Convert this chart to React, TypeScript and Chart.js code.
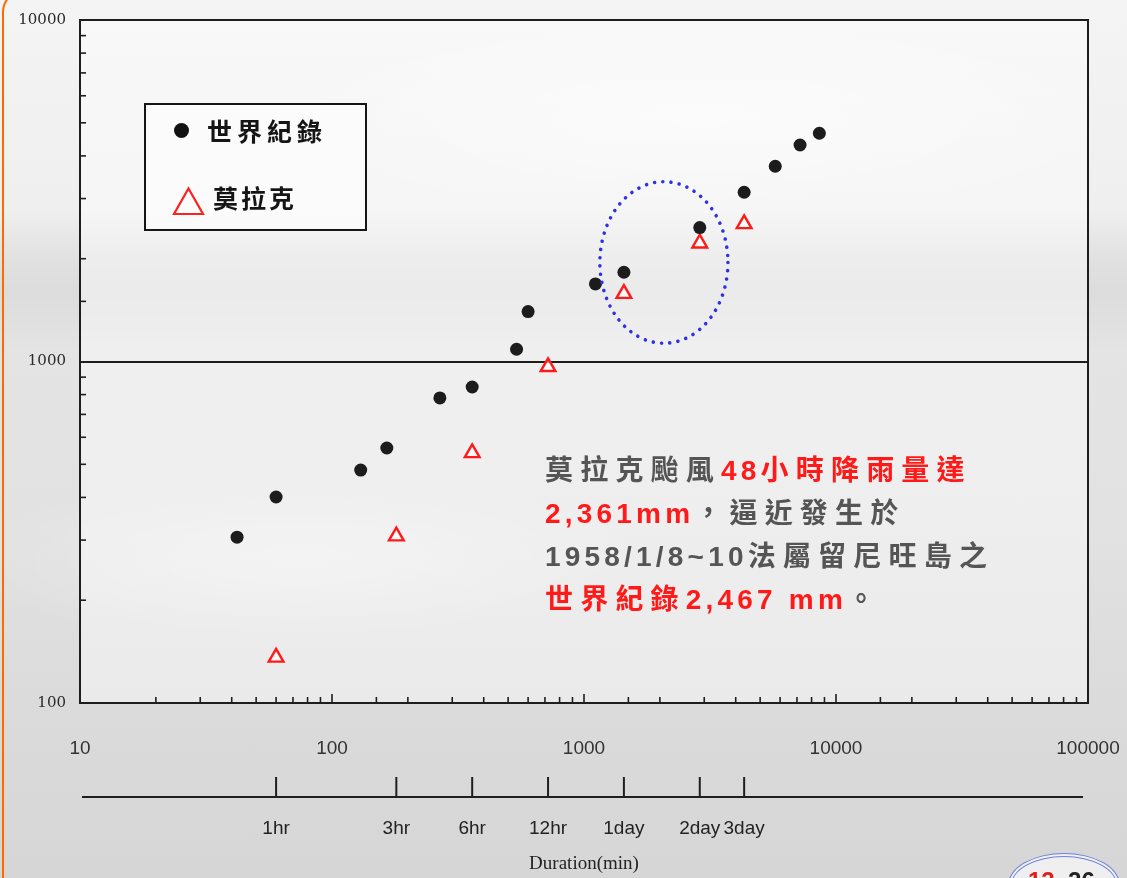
import { useEffect, useRef } from "react";
import { Chart, registerables } from "chart.js";

Chart.register(...registerables);

// ---- data ----
const worldDurations = [42, 60, 130, 165, 268, 360, 540, 600, 1110, 1440, 2880, 4320, 5740, 7200, 8590];
const worldDepths = [306, 401, 481, 558, 782, 842, 1086, 1400, 1687, 1825, 2467, 3130, 3730, 4305, 4660];
const morakotDurations = [60, 180, 360, 720, 1440, 2880, 4320];
const morakotDepths = [136, 308, 540, 965, 1580, 2220, 2530];

const durationTicks = [60, 180, 360, 720, 1440, 2880, 4320];
const durationLabels = ["1hr", "3hr", "6hr", "12hr", "1day", "2day", "3day"];
const xAxisTitle = "Duration(min)";

// highlighted region (data space) for the dotted ellipse
const highlightX = [1156, 3726];
const highlightY = [1131, 3362];

const seriesNames = ["世界紀錄", "莫拉克"];

const isDecade = (v: number) => {
  const l = Math.log10(v);
  return Math.abs(l - Math.round(l)) < 1e-9;
};

const decorPlugin = {
  id: "decor",
  beforeDraw(chart: any) {
    const { ctx, chartArea: a } = chart;
    ctx.save();
    ctx.fillStyle = "rgba(255,255,255,0.42)";
    ctx.fillRect(a.left, a.top, a.right - a.left, a.bottom - a.top);
    ctx.restore();
  },
  afterDraw(chart: any) {
    const { ctx, chartArea: a } = chart;
    const xs = chart.scales.x;
    const ys = chart.scales.y;
    ctx.save();
    // frame top & right
    ctx.strokeStyle = "#1e1e1e";
    ctx.lineWidth = 2;
    ctx.beginPath();
    ctx.moveTo(a.left, a.top);
    ctx.lineTo(a.right, a.top);
    ctx.lineTo(a.right, a.bottom);
    ctx.stroke();

    // inner ticks on x
    ctx.lineWidth = 1.6;
    xs.ticks.forEach((t: any) => {
      const px = xs.getPixelForValue(t.value);
      if (px <= a.left + 1 || px >= a.right - 1) return;
      const len = isDecade(t.value) ? 9 : 6;
      ctx.beginPath();
      ctx.moveTo(px, a.bottom);
      ctx.lineTo(px, a.bottom - len);
      ctx.stroke();
    });
    // inner ticks on y
    ys.ticks.forEach((t: any) => {
      const py = ys.getPixelForValue(t.value);
      if (py <= a.top + 1 || py >= a.bottom - 1) return;
      if (isDecade(t.value)) return;
      ctx.beginPath();
      ctx.moveTo(a.left, py);
      ctx.lineTo(a.left + 6, py);
      ctx.stroke();
    });

    // dotted ellipse
    const ex1 = xs.getPixelForValue(highlightX[0]);
    const ex2 = xs.getPixelForValue(highlightX[1]);
    const ey1 = ys.getPixelForValue(highlightY[1]);
    const ey2 = ys.getPixelForValue(highlightY[0]);
    ctx.setLineDash([0.01, 8.3]);
    ctx.lineCap = "round";
    ctx.lineWidth = 3.6;
    ctx.strokeStyle = "#2f2fe6";
    ctx.beginPath();
    ctx.ellipse((ex1 + ex2) / 2, (ey1 + ey2) / 2, (ex2 - ex1) / 2, (ey2 - ey1) / 2, 0, 0, Math.PI * 2);
    ctx.stroke();
    ctx.setLineDash([]);
    ctx.lineCap = "butt";

    // duration axis
    const lineY = a.bottom + 94;
    ctx.strokeStyle = "#1e1e1e";
    ctx.lineWidth = 2;
    ctx.beginPath();
    ctx.moveTo(a.left + 2, lineY);
    ctx.lineTo(a.right - 5, lineY);
    ctx.stroke();
    ctx.fillStyle = "#222";
    ctx.font = '19px "Liberation Sans"';
    ctx.textAlign = "center";
    ctx.textBaseline = "middle";
    durationTicks.forEach((d, i) => {
      const px = xs.getPixelForValue(d);
      ctx.beginPath();
      ctx.moveTo(px, lineY);
      ctx.lineTo(px, lineY - 20);
      ctx.stroke();
      ctx.fillText(durationLabels[i], px, lineY + 32);
    });
    ctx.font = '19px "Liberation Serif"';
    ctx.fillText(xAxisTitle, (a.left + a.right) / 2, lineY + 67);
    ctx.restore();
  },
};

export default function App() {
  const ref = useRef<HTMLCanvasElement | null>(null);

  useEffect(() => {
    if (!ref.current) return;
    const chart = new Chart(ref.current, {
      type: "scatter",
      data: {
        datasets: [
          {
            label: seriesNames[0],
            data: worldDurations.map((x, i) => ({ x, y: worldDepths[i] })),
            pointStyle: "circle",
            pointRadius: 6.5,
            pointBackgroundColor: "#1c1c1c",
            pointBorderWidth: 0,
          },
          {
            label: seriesNames[1],
            data: morakotDurations.map((x, i) => ({ x, y: morakotDepths[i] })),
            pointStyle: "triangle",
            pointRadius: 8.5,
            pointBackgroundColor: "rgba(255,255,255,0.6)",
            pointBorderColor: "#ff1a1a",
            pointBorderWidth: 2.4,
          },
        ],
      },
      options: {
        responsive: false,
        animation: false,
        devicePixelRatio: 1,
        layout: { padding: { top: 20, right: 39, left: 0, bottom: 0 } },
        plugins: { legend: { display: false }, tooltip: { enabled: false } },
        scales: {
          x: {
            type: "logarithmic",
            min: 10,
            max: 100000,
            position: "bottom",
            afterFit: (s: any) => {
              s.height = 175;
            },
            grid: {
              display: true,
              drawOnChartArea: false,
              drawTicks: true,
              tickLength: 28,
              tickColor: "rgba(0,0,0,0)",
              color: "rgba(0,0,0,0)",
            },
            border: { display: true, color: "#1e1e1e", width: 2 },
            ticks: {
              autoSkip: false,
              maxRotation: 0,
              padding: 6,
              color: "#333",
              font: { family: "Liberation Sans", size: 19 },
              callback: (v: any) => (isDecade(Number(v)) ? String(Number(v)) : ""),
            },
          },
          y: {
            type: "logarithmic",
            min: 100,
            max: 10000,
            afterFit: (s: any) => {
              s.width = 80;
            },
            grid: {
              drawTicks: true,
              tickLength: 10,
              tickColor: "rgba(0,0,0,0)",
              lineWidth: 2,
              color: (c: any) => (c.tick && c.tick.value === 1000 ? "#1e1e1e" : "rgba(0,0,0,0)"),
            },
            border: { display: true, color: "#1e1e1e", width: 2 },
            ticks: {
              autoSkip: false,
              padding: 4,
              color: "#2a2a2a",
              font: { family: "DejaVu Serif", size: 15 },
              callback: (v: any) => (isDecade(Number(v)) ? String(Number(v)) : ""),
            },
          },
        },
      },
      plugins: [decorPlugin],
    } as any);
    return () => chart.destroy();
  }, []);

  const gray = "#555";
  const red = "#ff1a1a";
  const lineStyle: any = { height: 43, lineHeight: "43px", whiteSpace: "pre" };
  const cjk: any = { letterSpacing: 7.2 };
  const lat: any = { letterSpacing: 4.2 };

  return (
    <div
      style={{
        position: "fixed",
        left: 0,
        top: 0,
        width: 1127,
        height: 878,
        overflow: "hidden",
        background:
          "radial-gradient(ellipse 500px 120px at 300px 560px, rgba(255,255,255,0.35), rgba(255,255,255,0) 70%), radial-gradient(ellipse 600px 140px at 700px 120px, rgba(255,255,255,0.5), rgba(255,255,255,0) 70%), linear-gradient(180deg, #f4f4f4 0%, #efefef 24%, #e2e2e2 29%, #dcdcdc 33%, #e4e4e4 40%, #e2e2e2 60%, #dbdbdb 80%, #d6d6d6 100%)",
      }}
    >
      <div
        style={{
          position: "absolute",
          left: 2,
          top: -10,
          width: 200,
          height: 920,
          borderLeft: "2.5px solid #ff6a00",
          borderTop: "2.5px solid #ff6a00",
          borderTopLeftRadius: 22,
        }}
      />
      <canvas ref={ref} width={1127} height={878} style={{ position: "absolute", left: 0, top: 0, width: 1127, height: 878 }} />

      {/* legend */}
      <div
        style={{
          position: "absolute",
          left: 144,
          top: 103,
          width: 223,
          height: 128,
          boxSizing: "border-box",
          border: "2px solid #151515",
          background: "rgba(255,255,255,0.55)",
        }}
      />
      <div
        style={{
          position: "absolute",
          left: 173.5,
          top: 122.5,
          width: 15,
          height: 15,
          borderRadius: "50%",
          background: "#111",
        }}
      />
      <div
        style={{
          position: "absolute",
          left: 207,
          top: 115,
          fontFamily: '"Noto Sans CJK TC"',
          fontWeight: 700,
          fontSize: 25,
          lineHeight: "30px",
          letterSpacing: 5,
          color: "#151515",
          whiteSpace: "pre",
        }}
      >
        {seriesNames[0]}
      </div>
      <svg style={{ position: "absolute", left: 172, top: 186 }} width={34} height={31}>
        <polygon points="16.5,2.5 31,28 2,28" fill="rgba(255,255,255,0.7)" stroke="#ff2020" strokeWidth={2.2} />
      </svg>
      <div
        style={{
          position: "absolute",
          left: 213,
          top: 182,
          fontFamily: '"Noto Sans CJK TC"',
          fontWeight: 700,
          fontSize: 25,
          lineHeight: "30px",
          letterSpacing: 3,
          color: "#151515",
          whiteSpace: "pre",
        }}
      >
        {seriesNames[1]}
      </div>

      {/* annotation */}
      <div
        style={{
          position: "absolute",
          left: 545,
          top: 449,
          fontFamily: '"Liberation Sans", "Noto Sans CJK TC"',
          fontWeight: 700,
          fontSize: 28,
        }}
      >
        <div style={lineStyle}>
          <span style={{ ...cjk, color: gray }}>莫拉克颱風</span>
          <span style={{ ...lat, color: red }}>48</span>
          <span style={{ ...cjk, color: red }}>小時降雨量達</span>
        </div>
        <div style={lineStyle}>
          <span style={{ ...lat, color: red }}>2,361mm</span>
          <span style={{ ...cjk, color: gray }}>，逼近發生於</span>
        </div>
        <div style={lineStyle}>
          <span style={{ ...lat, color: gray }}>1958/1/8~10</span>
          <span style={{ ...cjk, color: gray }}>法屬留尼旺島之</span>
        </div>
        <div style={lineStyle}>
          <span style={{ ...cjk, color: red }}>世界紀錄</span>
          <span style={{ ...lat, color: red }}>2,467 mm</span>
          <span style={{ ...cjk, color: gray }}>。</span>
        </div>
      </div>

      {/* page badge (clipped at bottom) */}
      <div
        style={{
          position: "absolute",
          left: 1008,
          top: 853,
          width: 112,
          height: 64,
          boxSizing: "border-box",
          border: "4px double #6f82d8",
          borderRadius: "50%",
          background: "rgba(255,255,255,0.6)",
        }}
      />
      <div
        style={{
          position: "absolute",
          left: 1028,
          top: 866,
          fontFamily: '"Liberation Sans"',
          fontWeight: 700,
          fontSize: 24,
          lineHeight: "30px",
          whiteSpace: "pre",
        }}
      >
        <span style={{ color: "#e02020" }}>12</span>
        <span style={{ color: "#222" }}>  26</span>
      </div>
    </div>
  );
}
